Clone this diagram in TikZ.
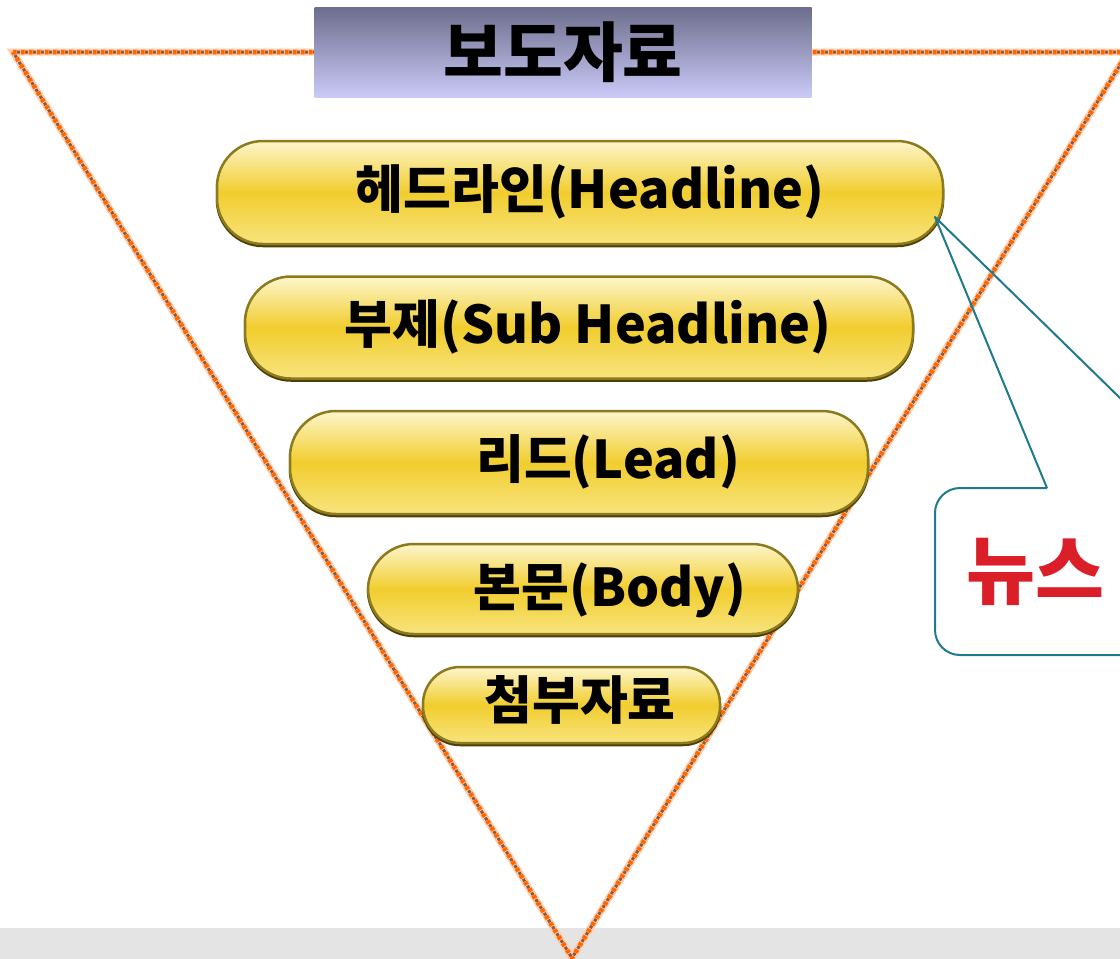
\documentclass[tikz,border=0pt]{standalone}
\usepackage{fontspec}
\newfontfamily\kr{Noto Sans CJK KR}
\definecolor{pilltop}{HTML}{FDF6CC}
\definecolor{pillmid}{HTML}{F1CD2E}
\definecolor{pillbot}{HTML}{F8E47E}
\definecolor{pillborder}{HTML}{8C7A1E}
\definecolor{pillshadow}{HTML}{4D3F05}
\definecolor{titletop}{HTML}{6D6D8C}
\definecolor{titlebot}{HTML}{CACAF8}
\definecolor{trior}{HTML}{FF6600}
\definecolor{tribr}{HTML}{8B5A3C}
\definecolor{trihalo}{HTML}{FFCBA8}
\definecolor{calloutc}{HTML}{1F7A8C}
\definecolor{newsred}{HTML}{DA1F28}
\definecolor{graybar}{HTML}{E4E4E4}
\tikzset{
  pillshape/.style={draw=pillborder, line width=2.5pt, top color=pilltop, bottom color=pillbot, middle color=pillmid, rounded corners=46pt, inner sep=0pt},
  pillshadowstyle/.style={fill=pillshadow, draw=pillshadow, line width=2.5pt, rounded corners=46pt, inner sep=0pt},
  pilltext/.style={font=\kr\bfseries\fontsize{52}{60}\selectfont, text=black, inner sep=0pt},
  titlebox/.style={top color=titletop, bottom color=titlebot, draw=none, inner sep=0pt, font=\kr\bfseries\fontsize{65}{72}\selectfont, text=black},
  tribase/.style={draw=trihalo, line width=7pt, line join=miter},
  tridotA/.style={draw=trior, line width=4.5pt, dash pattern=on 3.5pt off 4.5pt},
  tridotB/.style={draw=tribr, line width=3pt, dash pattern=on 3pt off 5pt, dash phase=4pt},
  callout/.style={draw=calloutc, line width=2pt},
  newstext/.style={font=\kr\bfseries\fontsize{75}{84}\selectfont, text=newsred, inner sep=0pt}
}
\begin{document}
\begin{tikzpicture}[x=1pt,y=-1pt]
\useasboundingbox (0,0) rectangle (1120,959);
\clip (0,0) rectangle (1120,959);
\fill[white] (0,0) rectangle (1120,959);
\fill[graybar] (0,928) rectangle (1120,959);
% inverted triangle
\coordinate (tl) at (13,52);
\coordinate (tr) at (1128,52);
\coordinate (bt) at (572,958);
\draw[tribase] (tl) -- (tr) -- (bt) -- cycle;
\draw[tridotA] (tl) -- (tr) -- (bt) -- cycle;
\draw[tridotB] (tl) -- (tr) -- (bt) -- cycle;
% title
\node[titlebox, minimum width=497pt, minimum height=90pt] (title) at (563,52) {보도자료};
% pills
\node[pillshadowstyle, minimum width=726pt, minimum height=103pt] (head-s) at (580,194.5) {};
\node[pillshape, minimum width=726pt, minimum height=103pt] (head) at (580,192.5) {};
\node[pilltext] (head-t) at (590,192) {헤드라인(Headline)};
\node[pillshadowstyle, minimum width=668pt, minimum height=102pt] (sub-s) at (579,329.5) {};
\node[pillshape, minimum width=668pt, minimum height=102pt] (sub) at (579,327.5) {};
\node[pilltext] (sub-t) at (588,327) {부제(Sub Headline)};
\node[pillshadowstyle, minimum width=578pt, minimum height=103pt] (lead-s) at (579,464.5) {};
\node[pillshape, minimum width=578pt, minimum height=103pt] (lead) at (579,462.5) {};
\node[pilltext] (lead-t) at (608,462) {리드(Lead)};
\node[pillshadowstyle, minimum width=430pt, minimum height=90pt] (body-s) at (583,591) {};
\node[pillshape, minimum width=430pt, minimum height=90pt] (body) at (583,589) {};
\node[pilltext] (body-t) at (610,590) {본문(Body)};
\node[pillshadowstyle, rounded corners=37pt, minimum width=297pt, minimum height=76pt] (att-s) at (571.5,707) {};
\node[pillshape, rounded corners=37pt, minimum width=297pt, minimum height=76pt] (att) at (571.5,705) {};
\node[pilltext] (att-t) at (580,700) {첨부자료};
% callout
\coordinate (tip) at (935,217);
\coordinate (cbl) at (1047,488);
\coordinate (cbr) at (1212,488);
\draw[callout, line join=round] (cbl) -- (tip) -- (cbr);
\draw[callout, rounded corners=25pt] (cbr) -- (1320,488) -- (1320,655) -- (935,655) -- (935,488) -- (cbl);
\node[newstext] (news) at (1035,572) {뉴스};
\end{tikzpicture}
\end{document}
